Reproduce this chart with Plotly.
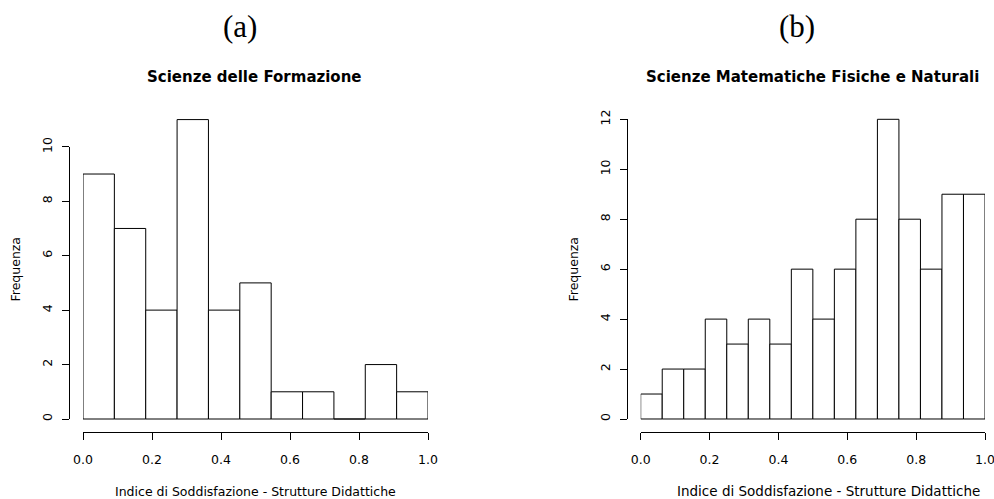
import plotly.graph_objects as go

W, H = 994, 499

# ---- data ----
counts_a = [9, 7, 4, 11, 4, 5, 1, 1, 0, 2, 1]
counts_b = [1, 2, 2, 4, 3, 4, 3, 6, 4, 6, 8, 12, 8, 6, 9, 9]
x_ticks = [0.0, 0.2, 0.4, 0.6, 0.8, 1.0]
x_ticklabels = ["0.0", "0.2", "0.4", "0.6", "0.8", "1.0"]
y_ticks_a = [0, 2, 4, 6, 8, 10]
y_ticks_b = [0, 2, 4, 6, 8, 10, 12]
panel_a = "(a)"
panel_b = "(b)"
title_a = "Scienze delle Formazione"
title_b = "Scienze Matematiche Fisiche e Naturali"
xlab = "Indice di Soddisfazione - Strutture Didattiche"
ylab = "Frequenza"

FONT = "DejaVu Sans, Arial, sans-serif"
SERIF = "Liberation Serif, Times New Roman, serif"


def fx(px):
    return px / W


def fy(py):
    return 1 - py / H


def bars(counts, xa, ya):
    n = len(counts)
    w = 1.0 / n
    centers = [(i + 0.5) * w for i in range(n)]
    return go.Bar(x=centers, y=counts, width=[w] * n, xaxis=xa, yaxis=ya,
                  marker=dict(color="white", line=dict(color="black", width=1)),
                  showlegend=False, hoverinfo="x+y")


def dummy(xa, ya):
    return go.Scatter(x=[0.5], y=[0], mode="markers", marker=dict(opacity=0),
                      xaxis=xa, yaxis=ya, showlegend=False, hoverinfo="skip")


fig = go.Figure()
fig.add_trace(bars(counts_a, "x", "y"))
fig.add_trace(bars(counts_b, "x2", "y2"))
fig.add_trace(dummy("x", "y3"))
fig.add_trace(dummy("x2", "y4"))

pad = 0.3
# panel a geometry (pixels)
a_x0, a_x1 = 83, 428
a_y0, a_ytop, a_ytopval = 419, 146.8, 10
a_ppu = (a_y0 - a_ytop) / a_ytopval
a_ymax = max(counts_a) + pad
# panel b
b_x0, b_x1 = 640.7, 985
b_y0, b_ytop, b_ytopval = 419, 119.3, 12
b_ppu = (b_y0 - b_ytop) / b_ytopval
b_ymax = max(counts_b) + pad

xaxis_common = dict(range=[0, 1], tickvals=x_ticks, ticktext=x_ticklabels,
                    showline=True, linecolor="black", linewidth=1,
                    ticks="outside", ticklen=7, tickwidth=1, tickcolor="black",
                    showgrid=False, zeroline=False, anchor="free", automargin=False,
                    position=fy(432), tickfont=dict(family=FONT, size=12.5, color="black"),
                    ticklabelstandoff=9, ticklabeloverflow="allow")
yvis_common = dict(showline=True, linecolor="black", linewidth=1,
                   ticks="outside", ticklen=7, tickwidth=1, tickcolor="black",
                   showgrid=False, zeroline=False, anchor="free", tickangle=-90,
                   automargin=False, ticklabelstandoff=5,
                   tickfont=dict(family=FONT, size=12.5, color="black"))
yhid = dict(visible=False, showgrid=False, zeroline=False, automargin=False)

fig.update_layout(
    width=W, height=H, margin=dict(l=0, r=0, t=0, b=0, autoexpand=False),
    paper_bgcolor="white", plot_bgcolor="rgba(0,0,0,0)",
    xaxis=dict(domain=[fx(a_x0), fx(a_x1)], **xaxis_common),
    xaxis2=dict(domain=[fx(b_x0), fx(b_x1)], **xaxis_common),
    yaxis=dict(domain=[fy(a_y0 + pad * a_ppu), fy(a_y0 - a_ymax * a_ppu)],
               range=[-pad, a_ymax], **yhid),
    yaxis2=dict(domain=[fy(b_y0 + pad * b_ppu), fy(b_y0 - b_ymax * b_ppu)],
                range=[-pad, b_ymax], **yhid),
    yaxis3=dict(domain=[fy(a_y0), fy(a_ytop)], range=[0, a_ytopval],
                tickvals=y_ticks_a, position=fx(69), **yvis_common),
    yaxis4=dict(domain=[fy(b_y0), fy(b_ytop)], range=[0, b_ytopval],
                tickvals=y_ticks_b, position=fx(626.7), **yvis_common),
)

ann = [
    (panel_a, 240, 26, dict(family=SERIF, size=31), 0),
    (panel_b, 797, 26, dict(family=SERIF, size=31), 0),
    ("<b>" + title_a + "</b>", 254.7, 77, dict(family=FONT, size=15), 0),
    ("<b>" + title_b + "</b>", 812.3, 77, dict(family=FONT, size=15), 0),
    (xlab, 255, 491, dict(family=FONT, size=12.5), 0),
    (xlab, 828, 491, dict(family=FONT, size=13.5), 0),
    (ylab, 15, 269.5, dict(family=FONT, size=12.5), -90),
    (ylab, 573, 269.5, dict(family=FONT, size=12.5), -90),
]
for text, px, py, font, ang in ann:
    font = dict(font, color="black")
    fig.add_annotation(text=text, x=fx(px), y=fy(py), xref="paper", yref="paper",
                       xanchor="center", yanchor="middle", showarrow=False,
                       font=font, textangle=ang)

fig.write_html("out.html",
               config={"displayModeBar": False},
               post_script="document.body.style.margin='0px';"
                           "document.body.style.overflow='hidden';")
